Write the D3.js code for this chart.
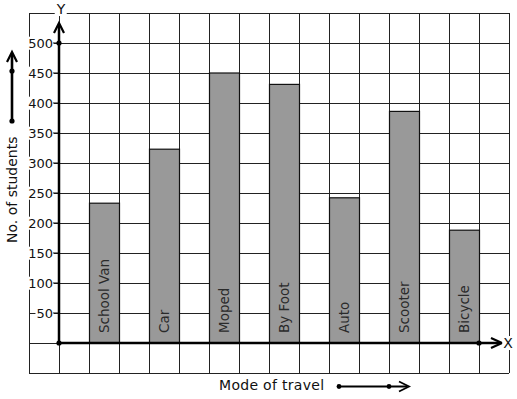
<!DOCTYPE html>
<html><head><meta charset="utf-8">
<script src="https://cdn.jsdelivr.net/npm/d3@7"></script>
<style>body{margin:0;background:#fff}svg{display:block}text{font-family:"DejaVu Sans",sans-serif}</style>
</head><body><svg id="c" width="517" height="399"></svg>
<script>
const categories = ["School Van","Car","Moped","By Foot","Auto","Scooter","Bicycle"];
const values = [233, 323, 450, 431, 242, 386, 188];
const yTicks = [50,100,150,200,250,300,350,400,450,500];
const xTitle = "Mode of travel";
const yTitle = "No. of students";

const svg = d3.select("#c");
const x = d3.scaleBand().domain(categories).range([59, 509]).paddingInner(0.5).paddingOuter(0.5);
const y = d3.scaleLinear().domain([0, 500]).range([343, 43]);
const half = x.step() / 2;
const gx0 = x.range()[0] - half, gx1 = x.range()[1];
const gyTop = y(550), gyBot = y(-50);

// grid
const g = svg.append("g").attr("stroke", "#222").attr("stroke-width", 1).attr("shape-rendering","crispEdges");
d3.range(-50, 551, 50).forEach(v => g.append("line").attr("x1", gx0).attr("x2", gx1).attr("y1", Math.round(y(v))+0.5).attr("y2", Math.round(y(v))+0.5));
d3.range(0, 17).forEach(k => { const xx = gx0 + k*half; g.append("line").attr("x1", xx+0.5).attr("x2", xx+0.5).attr("y1", gyTop).attr("y2", gyBot); });

// bars
svg.append("g").selectAll("rect").data(categories).join("rect")
  .attr("x", d => x(d)+0.5).attr("width", x.bandwidth())
  .attr("y", (d,i) => y(values[i])).attr("height", (d,i) => y(0) - y(values[i]))
  .attr("fill", "#999").attr("stroke", "#111").attr("stroke-width", 1.2);

// bar labels
svg.append("g").selectAll("text").data(categories).join("text")
  .attr("transform", d => `translate(${x(d)+x.bandwidth()/2+5},${y(0)-10}) rotate(-90)`)
  .attr("font-size", 13.5).attr("fill", "#2a2a2a").text(d => d);

function label(parent, tx, ty, txt, anchor, size) {
  const t = parent.append("text").attr("x", tx).attr("y", ty).attr("text-anchor", anchor)
    .attr("dy", "0.36em").attr("font-size", size).attr("fill", "#111").text(txt);
  const b = t.node().getBBox();
  parent.insert("rect", () => t.node()).attr("x", b.x-1).attr("y", b.y+1).attr("width", b.width+2).attr("height", b.height-2).attr("fill", "#fff");
  return t;
}

// y tick labels
const ya = svg.append("g");
yTicks.forEach(v => {
  label(ya, 53, y(v), String(v), "end", 13);
  ya.append("line").attr("x1", 53).attr("x2", 59).attr("y1", y(v)).attr("y2", y(v)).attr("stroke", "#111").attr("stroke-width", 1);
});

// axes
const ax = svg.append("g").attr("stroke", "#000").attr("fill", "none").attr("stroke-width", 2.5);
ax.append("line").attr("x1", x.range()[0]).attr("x2", x.range()[0]).attr("y1", y(0)).attr("y2", 25);
ax.append("path").attr("d", `M54,33 L59,23 L64,33`).attr("stroke-width", 2.2);
ax.append("line").attr("x1", x.range()[0]).attr("x2", 500).attr("y1", y(0)).attr("y2", y(0));
ax.append("path").attr("d", `M491,338 L502,343 L491,348`).attr("stroke-width", 2.2);
svg.append("circle").attr("cx", 59).attr("cy", y(500)).attr("r", 2.6).attr("fill", "#000");
svg.append("circle").attr("cx", 59).attr("cy", y(0)).attr("r", 2.6).attr("fill", "#000");
svg.append("circle").attr("cx", x(categories[6]) + x.bandwidth()).attr("cy", y(0)).attr("r", 2.6).attr("fill", "#000");

label(svg, 61, 9, "Y", "middle", 14);
label(svg, 508, 343, "X", "middle", 14);

// axis titles
svg.append("text").attr("transform", "translate(17,243) rotate(-90)").attr("font-size", 14).attr("fill", "#111").text(yTitle);
svg.append("text").attr("x", 219).attr("y", 390).attr("font-size", 14).attr("fill", "#111").attr("letter-spacing", 0.3).text(xTitle);

// decorative arrows
const da = svg.append("g").attr("stroke", "#000").attr("fill", "none");
da.append("line").attr("x1", 12).attr("x2", 12).attr("y1", 121).attr("y2", 54).attr("stroke-width", 2.6);
da.append("path").attr("d", "M7,62 L12,52 L17,62").attr("stroke-width", 2.2);
svg.append("circle").attr("cx", 12).attr("cy", 71).attr("r", 2.6).attr("fill", "#000");
svg.append("circle").attr("cx", 12).attr("cy", 121).attr("r", 2.6).attr("fill", "#000");
da.append("line").attr("x1", 339).attr("x2", 407).attr("y1", 386.5).attr("y2", 386.5).attr("stroke-width", 1.8);
da.append("path").attr("d", "M399,381.5 L409,386.5 L399,391.5").attr("stroke-width", 1.8);
svg.append("circle").attr("cx", 339).attr("cy", 386.5).attr("r", 2.4).attr("fill", "#000");
svg.append("circle").attr("cx", 389).attr("cy", 386.5).attr("r", 2.4).attr("fill", "#000");
</script></body></html>
